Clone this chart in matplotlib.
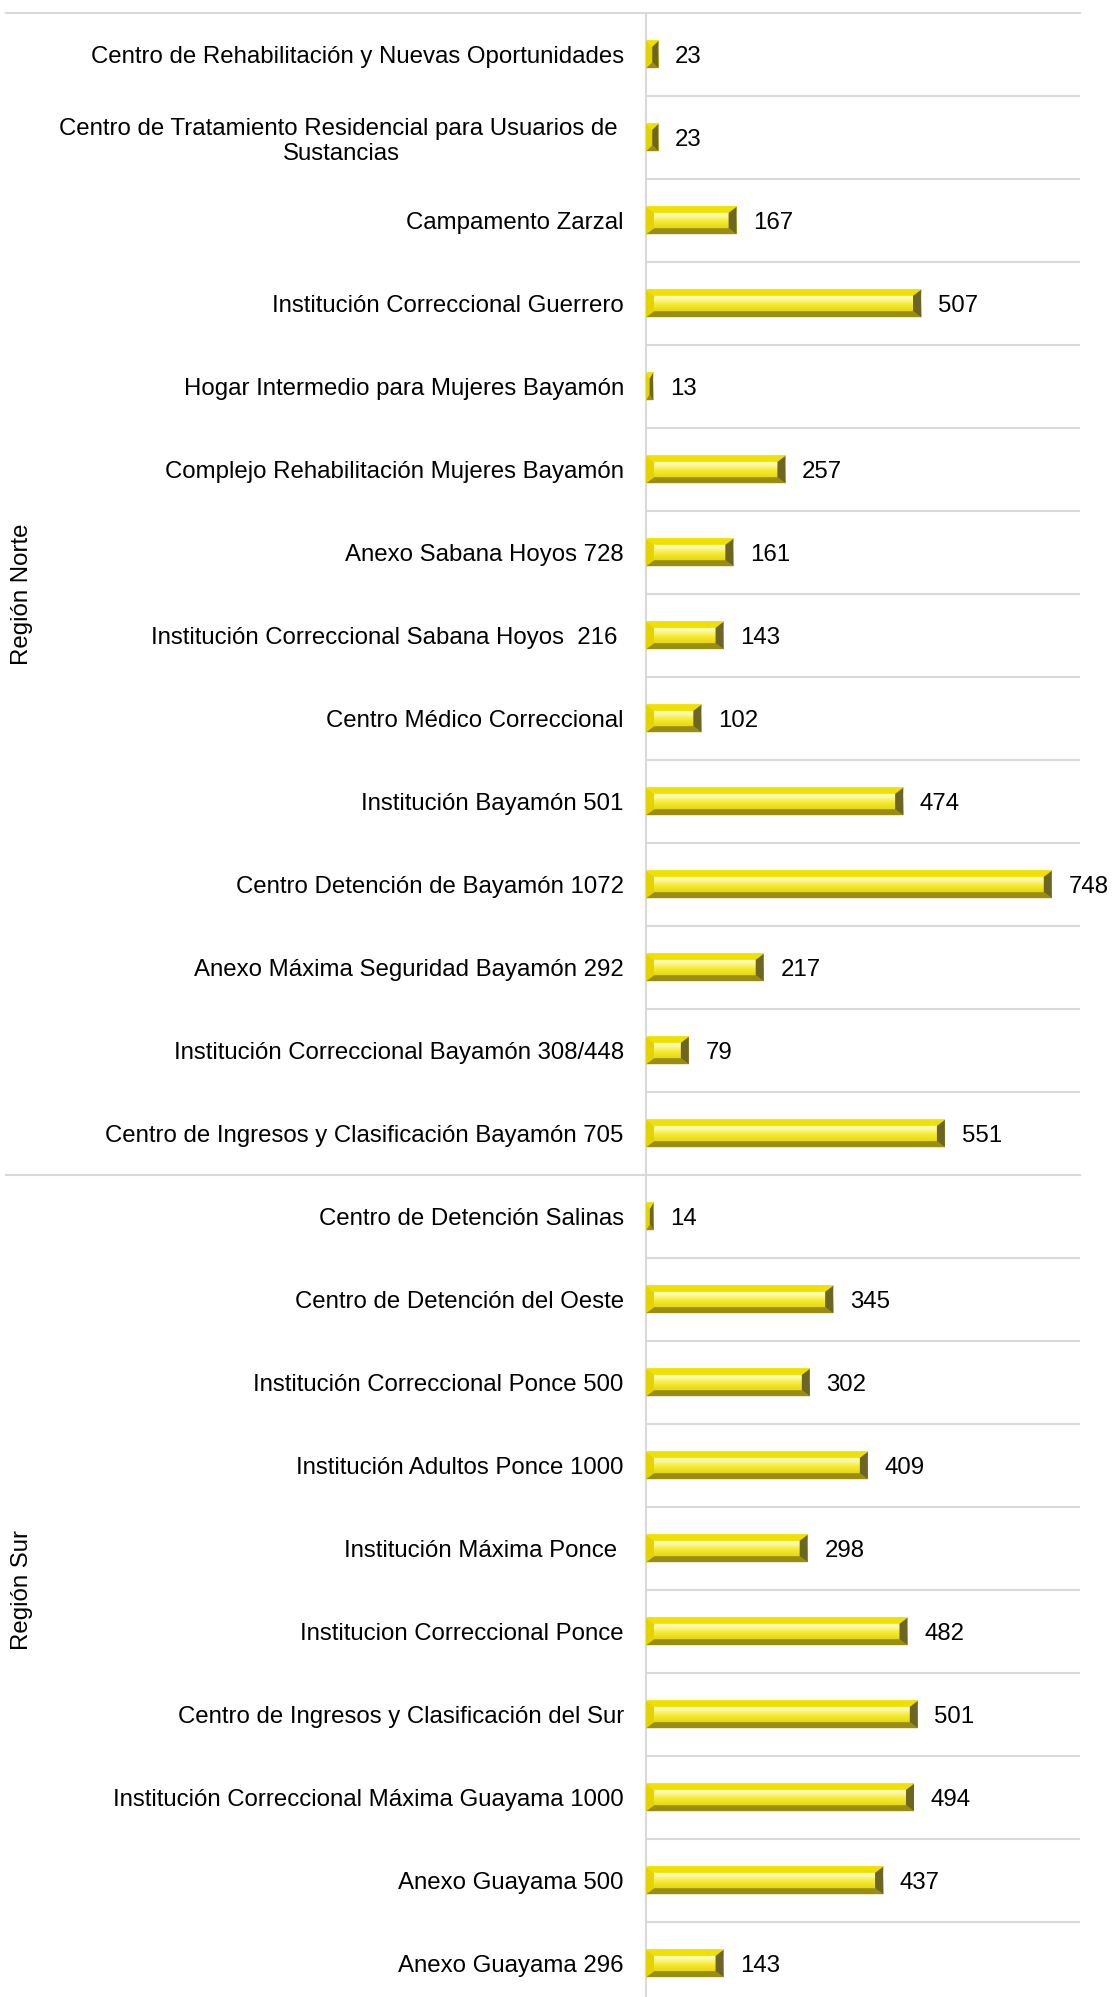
import matplotlib
matplotlib.use('Agg')
import matplotlib.pyplot as plt
import numpy as np
from matplotlib.patches import Polygon
from matplotlib.colors import LinearSegmentedColormap
import matplotlib.transforms as mtransforms

categories = [
    "Centro de Rehabilitación y Nuevas Oportunidades",
    "Centro de Tratamiento Residencial para Usuarios de \nSustancias",
    "Campamento Zarzal",
    "Institución Correccional Guerrero",
    "Hogar Intermedio para Mujeres Bayamón",
    "Complejo Rehabilitación Mujeres Bayamón",
    "Anexo Sabana Hoyos 728",
    "Institución Correccional Sabana Hoyos  216 ",
    "Centro Médico Correccional",
    "Institución Bayamón 501",
    "Centro Detención de Bayamón 1072",
    "Anexo Máxima Seguridad Bayamón 292",
    "Institución Correccional Bayamón 308/448",
    "Centro de Ingresos y Clasificación Bayamón 705",
    "Centro de Detención Salinas",
    "Centro de Detención del Oeste",
    "Institución Correccional Ponce 500",
    "Institución Adultos Ponce 1000",
    "Institución Máxima Ponce ",
    "Institucion Correccional Ponce",
    "Centro de Ingresos y Clasificación del Sur",
    "Institución Correccional Máxima Guayama 1000",
    "Anexo Guayama 500",
    "Anexo Guayama 296",
]
values = [23, 23, 167, 507, 13, 257, 161, 143, 102, 474, 748, 217, 79, 551,
          14, 345, 302, 409, 298, 482, 501, 494, 437, 143]
regions = ["Región Norte", "Región Sur"]
region_sizes = [14, 10]

plt.rcParams['font.family'] = ['Liberation Sans', 'DejaVu Sans']
FS = 17.3
W, H = 1112, 1997
fig = plt.figure(figsize=(W / 100, H / 100), dpi=100)
ax_left, ax_right, ax_top, row_px = 646, 1080, 13, 83.0
n = len(categories)
ax_bottom = ax_top + n * row_px
ax = fig.add_axes([ax_left / W, 1 - ax_bottom / H, (ax_right - ax_left) / W, (ax_bottom - ax_top) / H])

XMAX = 800
ax.set_xlim(0, XMAX)
ax.set_ylim(n - 0.5, -0.5)
px_per_unit = (ax_right - ax_left) / XMAX

bar_h = 0.33
bx_full = 8 / px_per_unit
by = 6 / row_px

face_cmap = LinearSegmentedColormap.from_list(
    'face', [(0.0, '#f3e51a'), (0.3, '#fffcc0'), (0.55, '#f6ea30'), (1.0, '#d6c800')])
grad = face_cmap(np.linspace(0, 1, 64))[:, None, :3]

for i, v in enumerate(values):
    y0, y1 = i - bar_h / 2, i + bar_h / 2
    bx = min(bx_full, v / 2)
    ax.imshow(grad, extent=(0, v, y1, y0), aspect='auto', origin='upper',
              interpolation='bilinear', zorder=2)
    top = [(0, y0), (v, y0), (v - bx, y0 + by), (bx, y0 + by)]
    bot = [(0, y1), (bx, y1 - by), (v - bx, y1 - by), (v, y1)]
    lft = [(0, y0), (bx, y0 + by), (bx, y1 - by), (0, y1)]
    rgt = [(v, y0), (v - bx, y0 + by), (v - bx, y1 - by), (v, y1)]
    ax.add_patch(Polygon(top, closed=True, fc='#efe000', ec='none', zorder=3))
    ax.add_patch(Polygon(bot, closed=True, fc='#9a8e12', ec='none', zorder=3))
    ax.add_patch(Polygon(lft, closed=True, fc='#e3d300', ec='none', zorder=3))
    ax.add_patch(Polygon(rgt, closed=True, fc='#6c6622', ec='none', zorder=3))
    ax.annotate(str(v), xy=(v, i), xytext=(12, 0), textcoords='offset points',
                ha='left', va='center_baseline', fontsize=FS, color='#000000', zorder=4,
                annotation_clip=False)

ax.set_xlim(0, XMAX)
ax.set_ylim(n - 0.5, -0.5)

ax.set_yticks(range(n))
ax.set_yticklabels(categories, fontsize=FS)
for lbl in ax.get_yticklabels():
    lbl.set_multialignment('center')
ax.tick_params(axis='y', length=0, pad=16)
ax.set_xticks([])
for s in ['top', 'right', 'bottom']:
    ax.spines[s].set_visible(False)
ax.spines['left'].set_color('#d9d9d9')
ax.spines['left'].set_linewidth(1.5)

grid_c = '#d9d9d9'
blend = mtransforms.blended_transform_factory(fig.transFigure, ax.transData)
bounds = np.cumsum(region_sizes)
for k in range(n):
    yy = k - 0.5
    if k == 0 or k in bounds[:-1]:
        ax.plot([6 / W, ax_right / W], [yy, yy], transform=blend, color=grid_c,
                lw=1.5, clip_on=False, zorder=1)
    else:
        ax.axhline(yy, color=grid_c, lw=1.5, zorder=1)

start = 0
for name, size in zip(regions, region_sizes):
    mid = start + (size - 1) / 2
    ax.text(22 / W, mid, name, transform=blend, rotation=90, ha='center', va='center',
            fontsize=FS, color='#000000')
    start += size

fig.savefig('out.png', dpi=100, facecolor='white')
